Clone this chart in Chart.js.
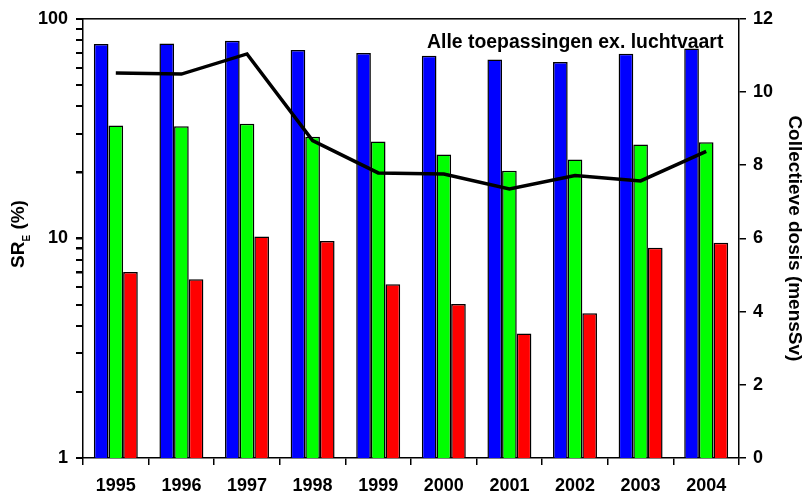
<!DOCTYPE html>
<html lang="en">

<head>
  <meta charset="UTF-8" />
  <title>SRE per jaar</title>
  <script src="https://cdn.jsdelivr.net/npm/chart.js@4"></script>
  <style>
    html, body { margin: 0; padding: 0; background: #fff; }
  </style>
</head>

<body>
  <canvas id="myChart" width="810" height="498"></canvas>

  <script>
    const years = ["1995", "1996", "1997", "1998", "1999", "2000", "2001", "2002", "2003", "2004"];
    // SR_E (%) per jaar, log-as links
    const sreBlue = [76.7, 77.2, 79.4, 72.1, 69.8, 67.9, 65.3, 63.5, 69.3, 73.3];
    const sreGreen = [32.7, 32.4, 33.3, 29.0, 27.6, 24.1, 20.3, 22.9, 26.8, 27.4];
    const sreRed = [7.03, 6.51, 10.2, 9.72, 6.18, 5.03, 3.69, 4.56, 9.07, 9.56];
    // collectieve dosis (mensSv), rechter as
    const dose = [10.52, 10.49, 11.04, 8.67, 7.79, 7.76, 7.35, 7.72, 7.57, 8.38];
    // tickmarks linker as (alleen 1, 10, 100 krijgen een label)
    const leftTicks = [1, 2, 3, 4, 5, 6, 7, 8, 9, 10, 20, 30, 40, 50, 60, 70, 80, 90, 100];
    const leftLabels = [1, 10, 100];

    const boldFont = (size) => ({ family: "Arial, 'Liberation Sans', sans-serif", size: size, weight: "bold" });

    // titel in de grafiek + bovenrand + tickmarks links + linker astitel met subscript
    const extras = {
      id: "extras",
      beforeDatasetsDraw(chart) {
        const ctx = chart.ctx;
        ctx.save();
        ctx.fillStyle = "#000";
        ctx.font = "bold 19.4px Arial, 'Liberation Sans', sans-serif";
        ctx.textBaseline = "alphabetic";
        ctx.textAlign = "left";
        ctx.fillText("Alle toepassingen ex. luchtvaart", 427, 48);
        ctx.restore();
      },
      afterDraw(chart) {
        const ctx = chart.ctx;
        const a = chart.chartArea;
        const yScale = chart.scales.y;
        ctx.save();
        ctx.fillStyle = "#000";
        ctx.fillRect(a.left, a.top - 0.75, a.right - a.left, 1.5);
        // kleine streepjes op de log-as
        for (const v of leftTicks) {
          const py = yScale.getPixelForValue(v);
          ctx.fillRect(a.left - 7, Math.round(py) - 1, 7, 2);
        }

        // SR_E (%)
        ctx.translate(24, 234);
        ctx.rotate(-Math.PI / 2);
        const big = "bold 19px Arial, 'Liberation Sans', sans-serif";
        const small = "bold 10px Arial, 'Liberation Sans', sans-serif";
        ctx.font = big;
        const w1 = ctx.measureText("SR").width;
        const w3 = ctx.measureText(" (%)").width;
        ctx.font = small;
        const w2 = ctx.measureText("E").width;
        let x = -(w1 + w2 + w3) / 2;
        ctx.textBaseline = "alphabetic";
        ctx.font = big;
        ctx.fillText("SR", x, 0);
        x += w1;
        ctx.font = small;
        ctx.fillText("E", x, 6);
        x += w2;
        ctx.font = big;
        ctx.fillText(" (%)", x, 0);
        ctx.restore();
      }
    };

    const ctx = document.getElementById("myChart").getContext("2d");
    const myChart = new Chart(ctx, {
      type: "bar",
      data: {
        labels: years,
        datasets: [
          {
            label: "blauw",
            data: sreBlue,
            yAxisID: "y",
            backgroundColor: "#0000ff",
            borderColor: "#000",
            borderWidth: 1.5,
            order: 1,
          },
          {
            label: "groen",
            data: sreGreen,
            yAxisID: "y",
            backgroundColor: "#00ff00",
            borderColor: "#000",
            borderWidth: 1.5,
            order: 1,
          },
          {
            label: "rood",
            data: sreRed,
            yAxisID: "y",
            backgroundColor: "#ff0000",
            borderColor: "#000",
            borderWidth: 1.5,
            order: 1,
          },
          {
            type: "line",
            label: "Collectieve dosis",
            data: dose,
            yAxisID: "y2",
            borderColor: "#000",
            borderWidth: 3.5,
            pointRadius: 0,
            tension: 0,
            fill: false,
            order: 0,
          },
        ],
      },
      options: {
        responsive: false,
        animation: false,
        layout: { padding: { top: 18, left: 0, right: 0, bottom: 0 } },
        datasets: {
          bar: { categoryPercentage: 0.67, barPercentage: 1.0 },
        },
        plugins: {
          legend: { display: false },
          tooltip: { enabled: false },
        },
        scales: {
          x: {
            grid: { offset: true, drawOnChartArea: false, tickLength: 7, color: "#000", lineWidth: 1.5 },
            border: { color: "#000", width: 1.5 },
            ticks: { color: "#000", font: boldFont(18), padding: 10, maxRotation: 0 },
            afterFit(scale) { scale.height = 40; },
          },
          y: {
            type: "logarithmic",
            position: "left",
            min: 1,
            max: 100,
            grid: { drawOnChartArea: false, drawTicks: true, tickLength: 7, color: "#000", lineWidth: 1.5 },
            border: { color: "#000", width: 1.5 },
            ticks: {
              color: "#000",
              font: boldFont(18),
              padding: 8,
              autoSkip: false,
              major: { enabled: false },
              callback: (v) => (leftLabels.includes(v) ? String(v) : ""),
            },
            afterBuildTicks(scale) {
              scale.ticks = leftTicks.map((v) => ({ value: v }));
            },
            afterFit(scale) { scale.width = 83; },
          },
          y2: {
            type: "linear",
            position: "right",
            min: 0,
            max: 12,
            grid: { drawOnChartArea: false, tickLength: 7, color: "#000", lineWidth: 1.5 },
            border: { color: "#000", width: 1.5 },
            ticks: { color: "#000", font: boldFont(18), padding: 7, stepSize: 2 },
            title: {
              display: true,
              text: "Collectieve dosis (mensSv)",
              color: "#000",
              font: boldFont(19),
            },
            afterFit(scale) { scale.width = 71; },
          },
        },
      },
      plugins: [extras],
    });
  </script>
</body>

</html>
